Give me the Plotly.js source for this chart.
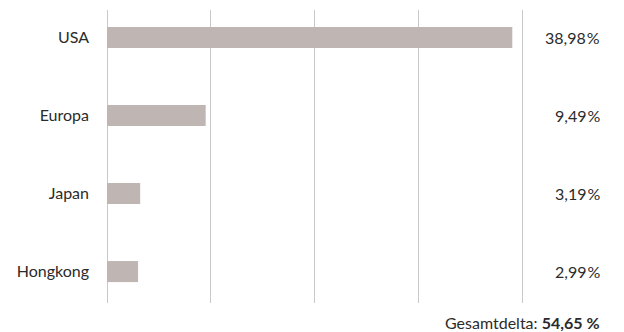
<!DOCTYPE html>
<html>
<head>
<meta charset="utf-8">
<script src="https://cdn.plot.ly/plotly-3.0.1.min.js"></script>
<style>
  html, body { margin: 0; padding: 0; background: #fff; }
  #chart { width: 624px; height: 332px; }
</style>
</head>
<body>
<div id="chart"></div>
<script>
// Regional share of total delta, in percent
const regions = ["USA", "Europa", "Japan", "Hongkong"];
const shares = [38.98, 9.49, 3.19, 2.99];
const totalLabel = "Gesamtdelta:";

const fmt = v => v.toFixed(2).replace(".", ",");
const total = shares.reduce((a, b) => a + b, 0);

const FONT = "Lato, 'Open Sans', sans-serif";
const TEXT_COLOR = "#2b2b2b";

const trace = {
  type: "bar",
  orientation: "h",
  y: regions,
  x: shares,
  width: 0.27,
  marker: { color: "#bfb6b3", line: { width: 0 } },
  hoverinfo: "skip"
};

// value labels in the right margin, one per bar
const valueNotes = regions.map((r, i) => ({
  xref: "paper", yref: "y",
  x: 1.184, y: r,
  xanchor: "right", yanchor: "middle",
  text: fmt(shares[i]) + "\u200A%",
  showarrow: false,
  font: { family: FONT, size: 16, color: TEXT_COLOR }
}));

valueNotes.push({
  xref: "paper", yref: "paper",
  x: 1.184, y: -0.065,
  xanchor: "right", yanchor: "middle",
  text: totalLabel + " <b>" + fmt(total) + " %</b>",
  showarrow: false,
  font: { family: FONT, size: 16, color: TEXT_COLOR }
});

const layout = {
  width: 624,
  height: 332,
  // a little headroom past 40 so the last grid line is kept
  margin: { l: 107, r: 99, t: 10, b: 29, pad: 0 },
  paper_bgcolor: "#ffffff",
  plot_bgcolor: "#ffffff",
  showlegend: false,
  font: { family: FONT, size: 16, color: TEXT_COLOR },
  xaxis: {
    range: [0, 40.2],
    dtick: 10,
    tick0: 0,
    showgrid: true,
    gridcolor: "#c9c9c9",
    gridwidth: 1,
    zeroline: true,
    zerolinecolor: "#c9c9c9",
    zerolinewidth: 1,
    showline: false,
    showticklabels: false,
    ticks: "",
    fixedrange: true
  },
  yaxis: {
    type: "category",
    range: [3.403, -0.353],
    showgrid: false,
    zeroline: false,
    showline: false,
    ticks: "",
    ticklabelstandoff: 17,
    tickfont: { family: FONT, size: 16, color: TEXT_COLOR },
    fixedrange: true
  },
  annotations: valueNotes
};

Plotly.newPlot("chart", [trace], layout, { displayModeBar: false, staticPlot: true });
</script>
</body>
</html>
